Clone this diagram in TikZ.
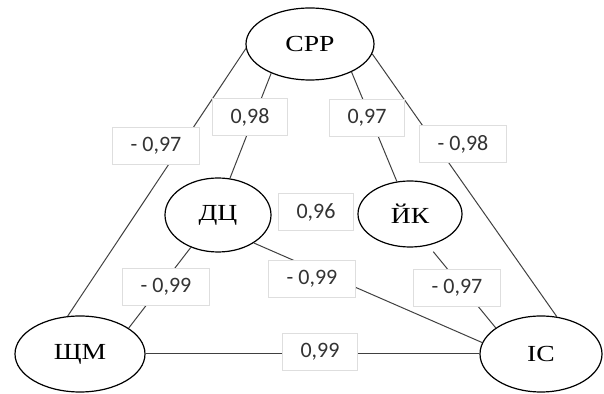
\documentclass[tikz,border=0pt]{standalone}
\usepackage{fontspec}
\setmainfont{Liberation Serif}
\newfontfamily\numfont{Carlito}
\newfontfamily\varfont[FakeStretch=1.2]{Liberation Serif}
\usepackage{tikz}
\usetikzlibrary{shapes}
\tikzstyle{var}=[draw, ellipse, inner sep=0pt, line width=0.6pt, font=\varfont\fontsize{11.5}{12}\selectfont]
\tikzstyle{coef}=[draw=black!13, fill=white, rectangle, inner xsep=9pt, minimum height=18.5pt, font=\numfont\fontsize{11}{12}\selectfont, text=black!80]
\tikzstyle{link}=[line width=0.5pt, black!75]

\begin{document}
\begin{tikzpicture}[x=0.5pt, y=-0.5pt]
		\useasboundingbox (0,0) rectangle (604,394);
		\node[var, minimum width=64pt, minimum height=36pt] (srr) at (310,44) {СРР};
		\node[var, minimum width=53pt, minimum height=37pt] (dc) at (218,215) {ДЦ};
		\node[var, minimum width=52pt, minimum height=33pt] (yk) at (410,214) {ЙК};
		\node[var, minimum width=65pt, minimum height=38pt] (shm) at (80,354) {ЩМ};
		\node[var, minimum width=61pt, minimum height=38pt] (ic) at (541,354) {ІС};
		%---------------------
		\draw[link] (srr.184) -- (shm.108);
		\draw[link] (srr.217) -- (dc.72);
		\draw[link] (srr.326) -- (yk.112);
		\draw[link] (srr.351) -- (ic.67);
		\draw[link] (dc.230) -- (shm.28);
		\draw[link] (dc.322) -- (ic.169);
		\draw[link, shorten <=4pt] (yk.300) -- (ic.150);
		\draw[link] (shm.east) -- (ic.west);
		%---------------------
		\node[coef] (k1) at (156,146) {- 0,97};
		\node[coef] (k2) at (250,117) {0,98};
		\node[coef] (k3) at (367,118) {0,97};
		\node[coef] (k4) at (463,144) {- 0,98};
		\node[coef] (k5) at (316,212) {0,96};
		\node[coef] (k6) at (166,287) {- 0,99};
		\node[coef] (k7) at (312,279) {- 0,99};
		\node[coef] (k8) at (320,352) {0,99};
		\node[coef] (k9) at (457,288) {- 0,97};
	\end{tikzpicture}
\end{document}
